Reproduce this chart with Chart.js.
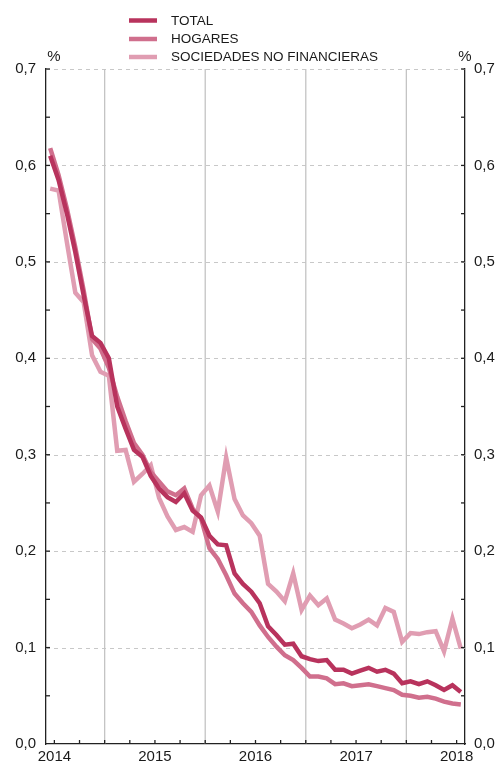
<!DOCTYPE html>
<html>
<head>
<meta charset="utf-8">
<script src="https://cdn.jsdelivr.net/npm/chart.js@4.4.1/dist/chart.umd.min.js"></script>
<style>
  html, body { margin: 0; padding: 0; background: #fff; }
</style>
</head>
<body>
<canvas id="chart" width="497" height="763"></canvas>
<script>
// month index: Jan 2014 = 0, series run monthly from Jun 2014 to Jul 2018
const firstMonth = 5;
const years = ['2014', '2015', '2016', '2017', '2018'];
const yearMid = [6, 18, 30, 42, 54];      // 1 July of each year (label position)
const yearBreaks = [12, 24, 36, 48];      // 1 January lines
const seriesNames = ['TOTAL', 'HOGARES', 'SOCIEDADES NO FINANCIERAS'];
const seriesColors = ['#b8335d', '#d06f8d', '#e09db2'];

const total = [
  0.610, 0.585, 0.550, 0.510, 0.465, 0.423, 0.416, 0.400, 0.350, 0.327,
  0.305, 0.298, 0.278, 0.265, 0.256, 0.251, 0.260, 0.242, 0.235, 0.216,
  0.207, 0.206, 0.177, 0.166, 0.158, 0.146, 0.122, 0.113, 0.103, 0.104,
  0.091, 0.088, 0.086, 0.087, 0.077, 0.077, 0.073, 0.076, 0.079, 0.075,
  0.077, 0.073, 0.063, 0.065, 0.062, 0.065, 0.061, 0.056, 0.061, 0.054
];
const hogares = [
  0.618, 0.590, 0.555, 0.515, 0.470, 0.420, 0.410, 0.390, 0.360, 0.335,
  0.312, 0.300, 0.282, 0.272, 0.262, 0.258, 0.265, 0.244, 0.234, 0.203,
  0.192, 0.175, 0.156, 0.146, 0.137, 0.123, 0.111, 0.101, 0.092, 0.087,
  0.079, 0.070, 0.070, 0.068, 0.062, 0.063, 0.060, 0.061, 0.062, 0.060,
  0.058, 0.056, 0.051, 0.050, 0.048, 0.049, 0.047, 0.044, 0.042, 0.041
];
const sociedades = [
  0.576, 0.574, 0.520, 0.468, 0.458, 0.403, 0.386, 0.382, 0.304, 0.305,
  0.272, 0.280, 0.289, 0.255, 0.236, 0.222, 0.225, 0.220, 0.258, 0.268,
  0.241, 0.297, 0.254, 0.237, 0.229, 0.216, 0.166, 0.158, 0.148, 0.177,
  0.139, 0.154, 0.144, 0.151, 0.129, 0.125, 0.120, 0.124, 0.129, 0.123,
  0.141, 0.137, 0.106, 0.115, 0.114, 0.116, 0.117, 0.096, 0.130, 0.099
];

const FONT = "'Liberation Sans', Arial, Helvetica, sans-serif";
const toPoints = arr => arr.map((v, i) => ({ x: firstMonth + 0.5 + i, y: v }));

const decor = {
  id: 'decor',
  beforeDatasetsDraw(chart) {
    const { ctx, chartArea: a, scales: { x, y } } = chart;
    ctx.save();
    // dashed horizontal grid
    ctx.strokeStyle = '#c8c8c8';
    ctx.lineWidth = 1;
    ctx.setLineDash([4, 4]);
    for (let v = 0.1; v <= 0.701; v += 0.1) {
      const py = Math.round(y.getPixelForValue(v)) + 0.5;
      ctx.beginPath(); ctx.moveTo(a.left, py); ctx.lineTo(a.right, py); ctx.stroke();
    }
    ctx.setLineDash([]);
    // year separators
    ctx.strokeStyle = '#c4c4c4';
    ctx.lineWidth = 1.3;
    yearBreaks.forEach(m => {
      const px = x.getPixelForValue(m);
      ctx.beginPath(); ctx.moveTo(px, a.top); ctx.lineTo(px, a.bottom); ctx.stroke();
    });
    ctx.restore();
  },
  afterDraw(chart) {
    const { ctx, chartArea: a, scales: { x, y } } = chart;
    ctx.save();
    ctx.strokeStyle = '#222';
    ctx.lineWidth = 1.3;
    // quarterly ticks on the x axis, pointing inward
    for (let m = 6; m <= 54; m += 3) {
      const px = x.getPixelForValue(m);
      ctx.beginPath(); ctx.moveTo(px, a.bottom); ctx.lineTo(px, a.bottom - 4); ctx.stroke();
    }
    // y ticks every 0.05 on both sides, pointing inward
    for (let v = 0.05; v <= 0.701; v += 0.05) {
      const py = y.getPixelForValue(v);
      ctx.beginPath(); ctx.moveTo(a.left, py); ctx.lineTo(a.left + 4, py); ctx.stroke();
      ctx.beginPath(); ctx.moveTo(a.right, py); ctx.lineTo(a.right - 4, py); ctx.stroke();
    }
    // unit labels
    ctx.fillStyle = '#1a1a1a';
    ctx.font = '15px ' + FONT;
    ctx.textAlign = 'center';
    ctx.textBaseline = 'middle';
    ctx.fillText('%', a.left + 8, a.top - 12);
    ctx.fillText('%', a.right, a.top - 12);
    // legend
    ctx.font = '13.5px ' + FONT;
    ctx.textAlign = 'left';
    const rows = [20.5, 39, 57];
    seriesNames.forEach((name, i) => {
      ctx.strokeStyle = seriesColors[i];
      ctx.lineWidth = 4.5;
      ctx.beginPath(); ctx.moveTo(129, rows[i]); ctx.lineTo(157, rows[i]); ctx.stroke();
      ctx.fillText(name, 171, rows[i] + 0.5);
    });
    ctx.restore();
  }
};

const yTicks = {
  stepSize: 0.1,
  color: '#1a1a1a',
  font: { family: FONT, size: 15 },
  callback: v => v.toFixed(1).replace('.', ',')
};

new Chart(document.getElementById('chart'), {
  type: 'line',
  data: {
    datasets: [
      { label: seriesNames[0], data: toPoints(total), borderColor: seriesColors[0] },
      { label: seriesNames[1], data: toPoints(hogares), borderColor: seriesColors[1] },
      { label: seriesNames[2], data: toPoints(sociedades), borderColor: seriesColors[2] }
    ]
  },
  options: {
    responsive: false,
    animation: false,
    events: [],
    elements: {
      line: { borderWidth: 4.5, tension: 0, fill: false },
      point: { radius: 0 }
    },
    layout: { padding: { top: 69, left: 0, right: 0, bottom: 0 } },
    plugins: { legend: { display: false }, tooltip: { enabled: false } },
    scales: {
      x: {
        type: 'linear',
        min: 5,
        max: 55,
        grid: { display: false, drawTicks: false },
        border: { display: true, color: '#222', width: 1.3 },
        afterBuildTicks: s => { s.ticks = yearMid.map(v => ({ value: v })); },
        afterFit: s => { s.height = 17; },
        ticks: {
          padding: 4,
          maxRotation: 0,
          autoSkip: false,
          color: '#1a1a1a',
          font: { family: FONT, size: 15 },
          callback: v => years[yearMid.indexOf(v)]
        }
      },
      y: {
        position: 'left',
        min: 0,
        max: 0.7,
        grid: { display: false, drawTicks: false },
        border: { display: true, color: '#222', width: 1.3 },
        afterFit: s => { s.width = 46; },
        ticks: Object.assign({ padding: 10 }, yTicks)
      },
      y2: {
        position: 'right',
        min: 0,
        max: 0.7,
        grid: { display: false, drawTicks: false },
        border: { display: true, color: '#222', width: 1.3 },
        afterFit: s => { s.width = 32; },
        ticks: Object.assign({ padding: 9 }, yTicks)
      }
    }
  },
  plugins: [decor]
});
</script>
</body>
</html>
